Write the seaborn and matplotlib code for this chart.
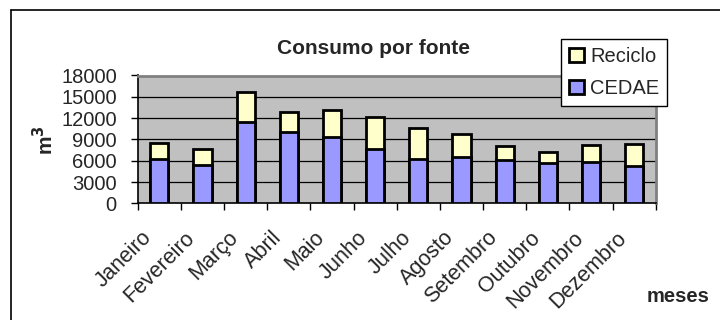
import matplotlib
matplotlib.use("Agg")
import matplotlib.pyplot as plt
from matplotlib.lines import Line2D
from matplotlib.patches import Patch
from matplotlib.transforms import ScaledTranslation
import seaborn as sns
import pandas as pd
import numpy as np

meses = ["Janeiro", "Fevereiro", "Março", "Abril", "Maio", "Junho",
         "Julho", "Agosto", "Setembro", "Outubro", "Novembro", "Dezembro"]
cedae = [6300, 5400, 11500, 10100, 9400, 7600, 6300, 6500, 6100, 5700, 5800, 5200]
reciclo = [2200, 2200, 4200, 2700, 3800, 4500, 4300, 3200, 2000, 1500, 2400, 3100]
yticks = [0, 3000, 6000, 9000, 12000, 15000, 18000]

sns.set_theme(style="white")
plt.rcParams['font.family'] = ['Liberation Sans', 'DejaVu Sans']

df = pd.DataFrame({"mes": meses, "CEDAE": cedae, "Reciclo": reciclo})
df["Total"] = df["CEDAE"] + df["Reciclo"]

fig = plt.figure(figsize=(7.2, 3.2), dpi=100)
ax = fig.add_axes([137.7/720, 1-203.3/320, (655.7-137.7)/720, (203.3-75.5)/320])
ax.set_facecolor("#C0C0C0")

sns.barplot(data=df, x="mes", y="Total", color="#FFFFCC", width=0.42,
            edgecolor="black", linewidth=2, saturation=1, ax=ax, zorder=3)
sns.barplot(data=df, x="mes", y="CEDAE", color="#9999FF", width=0.42,
            edgecolor="black", linewidth=2, saturation=1, ax=ax, zorder=4)

ax.set_ylim(0, 18000)
ax.set_xlim(-0.5, 11.5)
ax.set_yticks(yticks)
ax.set_yticklabels([str(v) for v in yticks], fontsize=14.5)
for v in yticks[1:]:
    ax.axhline(v, color="black", linewidth=0.9, zorder=1)

# category labels (rotated), drawn at category positions with a small offset
ax.set_xticks(range(12))
ax.set_xticklabels([""] * 12)
off = ScaledTranslation(-18/100, -24/100, fig.dpi_scale_trans)
for i, m in enumerate(meses):
    ax.text(i, 0, m, transform=ax.get_xaxis_transform() + off, rotation=45,
            ha="right", va="top", rotation_mode="anchor", fontsize=15.5)
ax.set_xticks(np.arange(-0.5, 12, 1), minor=True)
ax.tick_params(axis="x", which="major", length=0)
ax.tick_params(axis="x", which="minor", length=5, width=1, color="black", direction="out", bottom=True)
ax.tick_params(axis="y", which="major", length=5, width=1, color="black", direction="out", left=True, pad=10)

ax.set_xlabel("")
ax.set_ylabel("")
for s in ["left", "bottom"]:
    ax.spines[s].set_color("black")
    ax.spines[s].set_linewidth(1.2)
for s in ["top", "right"]:
    ax.spines[s].set_color("#808080")
    ax.spines[s].set_linewidth(2)

fig.text(373/720, 1-48/320, "Consumo por fonte", ha="center", va="center",
         fontsize=15, fontweight="bold")
fig.text(45/720, 1-140/320, "m$^\\mathbf{3}$", ha="center", va="center",
         fontsize=15, fontweight="bold", rotation=90)
fig.text(678/720, 1-296/320, "meses", ha="center", va="center",
         fontsize=14.5, fontweight="bold")

handles = [Patch(facecolor="#FFFFCC", edgecolor="black", linewidth=2, label="Reciclo"),
           Patch(facecolor="#9999FF", edgecolor="black", linewidth=2, label="CEDAE")]
leg = fig.legend(handles=handles, loc="upper left",
                 bbox_to_anchor=(561/720, 1-39/320), fontsize=14.5,
                 frameon=True, fancybox=False, framealpha=1, edgecolor="black",
                 handlelength=0.75, handleheight=0.75, handletextpad=0.3,
                 borderpad=0.4, labelspacing=0.65, borderaxespad=0)
leg.get_frame().set_linewidth(1)

fig.add_artist(Line2D([11/720, 11/720], [0, 1-10/320], color="black", linewidth=1.2, transform=fig.transFigure))
fig.add_artist(Line2D([11/720, 1], [1-10/320, 1-10/320], color="black", linewidth=1.2, transform=fig.transFigure))

fig.savefig("out.png", dpi=100, facecolor="white")
